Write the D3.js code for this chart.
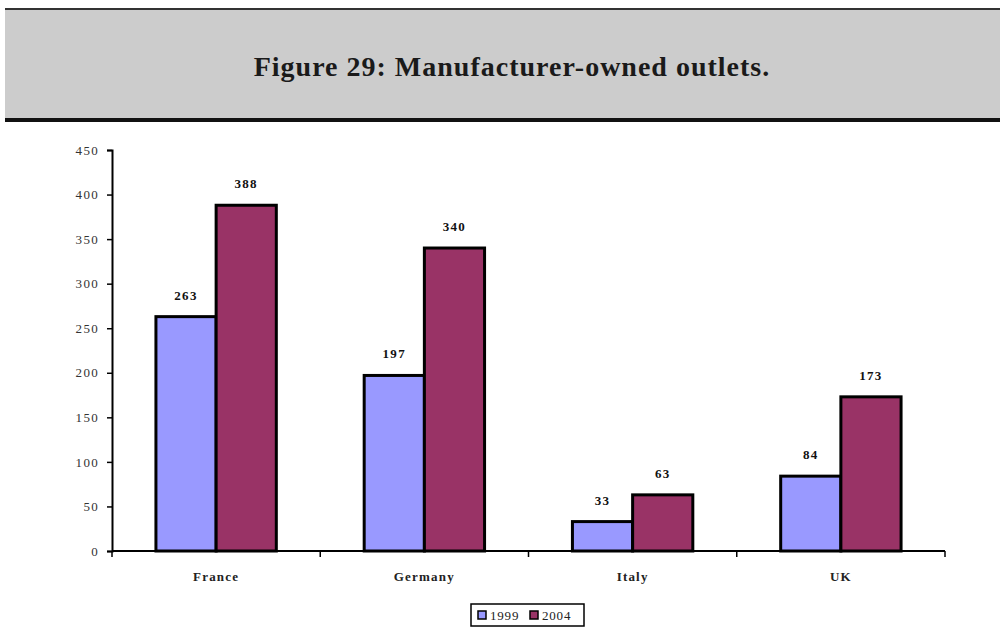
<!DOCTYPE html>
<html>
<head>
<meta charset="utf-8">
<script src="https://cdn.jsdelivr.net/npm/d3@7"></script>
<style>
  html, body { margin: 0; padding: 0; background: #fff; }
  svg { display: block; }
</style>
</head>
<body>
<svg id="chart" width="1000" height="629"></svg>
<script>
// Manufacturer-owned outlets by country, 1999 vs 2004
const countries = ["France", "Germany", "Italy", "UK"];
const years = ["1999", "2004"];
const values1999 = [263, 197, 33, 84];
const values2004 = [388, 340, 63, 173];
const yTicks = [0, 50, 100, 150, 200, 250, 300, 350, 400, 450];
const seriesColors = ["#9999ff", "#993366"];

(function () {
const svg = d3.select("#chart");
const W = 1000;
const serif = "'Liberation Serif', 'DejaVu Serif', serif";

// Title band
svg.append("rect").attr("x", 5).attr("y", 9).attr("width", W - 5).attr("height", 111)
  .attr("fill", "#cccccc");
svg.append("line").attr("x1", 5).attr("x2", W).attr("y1", 9).attr("y2", 9)
  .attr("stroke", "#333").attr("stroke-width", 2);
svg.append("line").attr("x1", 5).attr("x2", W).attr("y1", 120).attr("y2", 120)
  .attr("stroke", "#111").attr("stroke-width", 4);
svg.append("text").attr("x", 512).attr("y", 76).attr("text-anchor", "middle")
  .attr("font-family", serif).attr("letter-spacing", 1)
  .attr("font-size", 28).attr("font-weight", "bold").attr("fill", "#1a1a1a")
  .text("Figure 29: Manufacturer-owned outlets.");

// Plot area
const plotLeft = 112, plotRight = 945, plotTop = 150, plotBottom = 551;
const x = d3.scaleBand().domain(countries).range([plotLeft, plotRight]).paddingInner(0).paddingOuter(0);
const x1 = d3.scaleBand().domain(years).range([0, x.bandwidth()]).paddingInner(0).paddingOuter(0.73);
const y = d3.scaleLinear().domain([0, 450]).range([plotBottom, plotTop]);

const rows = countries.map((c, i) => ({ country: c, vals: [values1999[i], values2004[i]] }));

// Bars with value labels
const g = svg.append("g");
rows.forEach(r => {
  r.vals.forEach((v, j) => {
    g.append("rect")
      .attr("x", x(r.country) + x1(years[j]))
      .attr("y", y(v))
      .attr("width", x1.bandwidth())
      .attr("height", y(0) - y(v))
      .attr("fill", seriesColors[j])
      .attr("stroke", "#000").attr("stroke-width", 3);
    g.append("text")
      .attr("x", x(r.country) + x1(years[j]) + x1.bandwidth() / 2)
      .attr("y", y(v) - 17)
      .attr("text-anchor", "middle")
      .attr("font-family", serif).attr("letter-spacing", 1.3)
      .attr("font-size", 13).attr("font-weight", "bold").attr("fill", "#111")
      .text(v);
  });
});

// Y axis
const yAxis = d3.axisLeft(y).tickValues(yTicks).tickSize(5).tickPadding(8);
const ya = svg.append("g").attr("transform", `translate(${plotLeft},0)`).call(yAxis);
ya.select(".domain").attr("stroke", "#000").attr("stroke-width", 2);
ya.selectAll(".tick line").attr("stroke", "#000").attr("stroke-width", 1.5);
ya.selectAll(".tick text").attr("font-family", serif).attr("letter-spacing", 1.3)
  .attr("font-size", 13).attr("fill", "#333");

// X axis
const xa = svg.append("g").attr("transform", `translate(0,${plotBottom})`);
xa.append("line").attr("x1", plotLeft).attr("x2", plotRight).attr("stroke", "#000").attr("stroke-width", 2);
const boundaries = countries.map(c => x(c)).concat([plotRight]);
xa.selectAll(".xtick").data(boundaries).join("line")
  .attr("x1", d => d).attr("x2", d => d).attr("y1", 0).attr("y2", 6)
  .attr("stroke", "#000").attr("stroke-width", 1.5);
xa.selectAll(".xlab").data(countries).join("text")
  .attr("x", d => x(d) + x.bandwidth() / 2).attr("y", 30)
  .attr("text-anchor", "middle")
  .attr("font-family", serif).attr("letter-spacing", 1.2)
  .attr("font-size", 13).attr("font-weight", "bold").attr("fill", "#222")
  .text(d => d);

// Legend
const lg = svg.append("g").attr("transform", "translate(471,604)");
lg.append("rect").attr("width", 113).attr("height", 22).attr("fill", "#fff")
  .attr("stroke", "#000").attr("stroke-width", 1.5);
years.forEach((yr, j) => {
  const ox = 7 + j * 52;
  lg.append("rect").attr("x", ox).attr("y", 7).attr("width", 8).attr("height", 8)
    .attr("fill", seriesColors[j]).attr("stroke", "#000").attr("stroke-width", 1.5);
  lg.append("text").attr("x", ox + 12).attr("y", 16)
    .attr("font-family", serif).attr("letter-spacing", 0.8).attr("font-size", 13).attr("fill", "#222")
    .text(yr);
});
})();
</script>
</body>
</html>
